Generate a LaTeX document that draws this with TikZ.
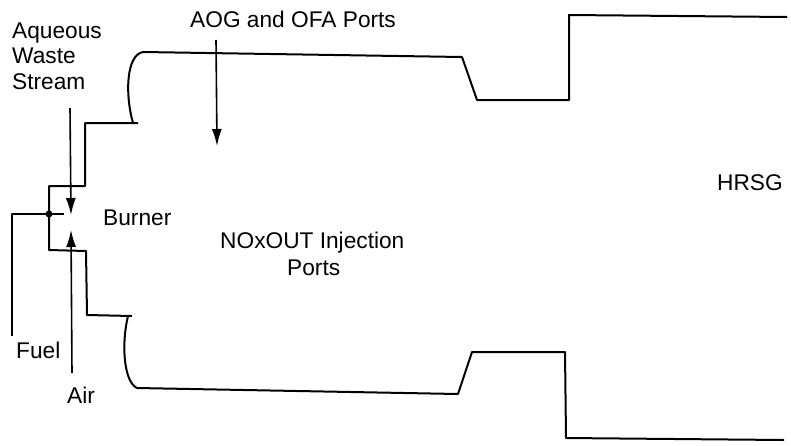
\documentclass[tikz,border=0pt]{standalone}
\usepackage{fontspec}
\setmainfont{Liberation Sans}
\usetikzlibrary{arrows.meta}
\tikzset{
  wall/.style={line width=2pt,line join=round},
  feed/.style={line width=1.6pt,-{Latex[length=17pt,width=10pt]}},
  lab/.style={font=\fontsize{22.7pt}{26pt}\selectfont,inner sep=0pt,anchor=base west,text=black}
}
\begin{document}
\begin{tikzpicture}[x=1pt,y=-1pt]
\useasboundingbox (0,0) rectangle (791,445);
\coordinate (t0) at (133,123);
\coordinate (t0x) at (138,123);
\coordinate (t1) at (143,52);
\coordinate (t2) at (462,57);
\coordinate (t3) at (477,100);
\coordinate (t4) at (569,100);
\coordinate (t5) at (569,15);
\coordinate (t6) at (787,17);
\coordinate (s1) at (85,123);
\coordinate (s2) at (85,186);
\coordinate (s3) at (49,186);
\coordinate (s4) at (49,250);
\coordinate (s5) at (86,251);
\coordinate (s6) at (87,315);
\coordinate (b0) at (128,316);
\coordinate (b0x) at (132,316);
\coordinate (b1) at (137,388);
\coordinate (b2) at (458,394);
\coordinate (b3) at (472,352);
\coordinate (b4) at (565,352);
\coordinate (b5) at (566,438);
\coordinate (b6) at (784,440);
\draw[wall] (t6) -- (t5) -- (t4) -- (t3) -- (t2) -- (t1) .. controls (126,55) and (125,95) .. (t0);
\draw[wall] (t0x) -- (s1) -- (s2) -- (s3) -- (s4) -- (s5) -- (s6) -- (b0x);
\draw[wall] (b0) .. controls (121,345) and (124,382) .. (b1) -- (b2) -- (b3) -- (b4) -- (b5) -- (b6);
\coordinate (w0) at (70,108);
\coordinate (w1) at (71,215);
\coordinate (a0) at (72,373);
\coordinate (a1) at (71,230);
\coordinate (g0) at (216,40);
\coordinate (g1) at (217,146);
\draw[feed] (w0) -- (w1);
\draw[feed] (a0) -- (a1);
\draw[feed] (g0) -- (g1);
\coordinate (f0) at (12,336);
\coordinate (f1) at (12,214);
\coordinate (f2) at (64,214);
\draw[wall] (f0) -- (f1) -- (f2);
\node[circle,fill=black,inner sep=0pt,minimum size=7pt] (j) at (49,214) {};
\node[lab] (n1) at (12,38) {Aqueous};
\node[lab] (n2) at (12,63) {Waste};
\node[lab] (n3) at (12,89) {Stream};
\node[lab] (n4) at (190,27) {AOG and OFA Ports};
\node[lab] (n5) at (103,225) {Burner};
\node[lab] (n6) at (220,248) {NOxOUT Injection};
\node[lab] (n7) at (287,275) {Ports};
\node[lab] (n8) at (717,190) {HRSG};
\node[lab] (n9) at (16,358) {Fuel};
\node[lab] (n10) at (67,403) {Air};
\end{tikzpicture}
\end{document}
